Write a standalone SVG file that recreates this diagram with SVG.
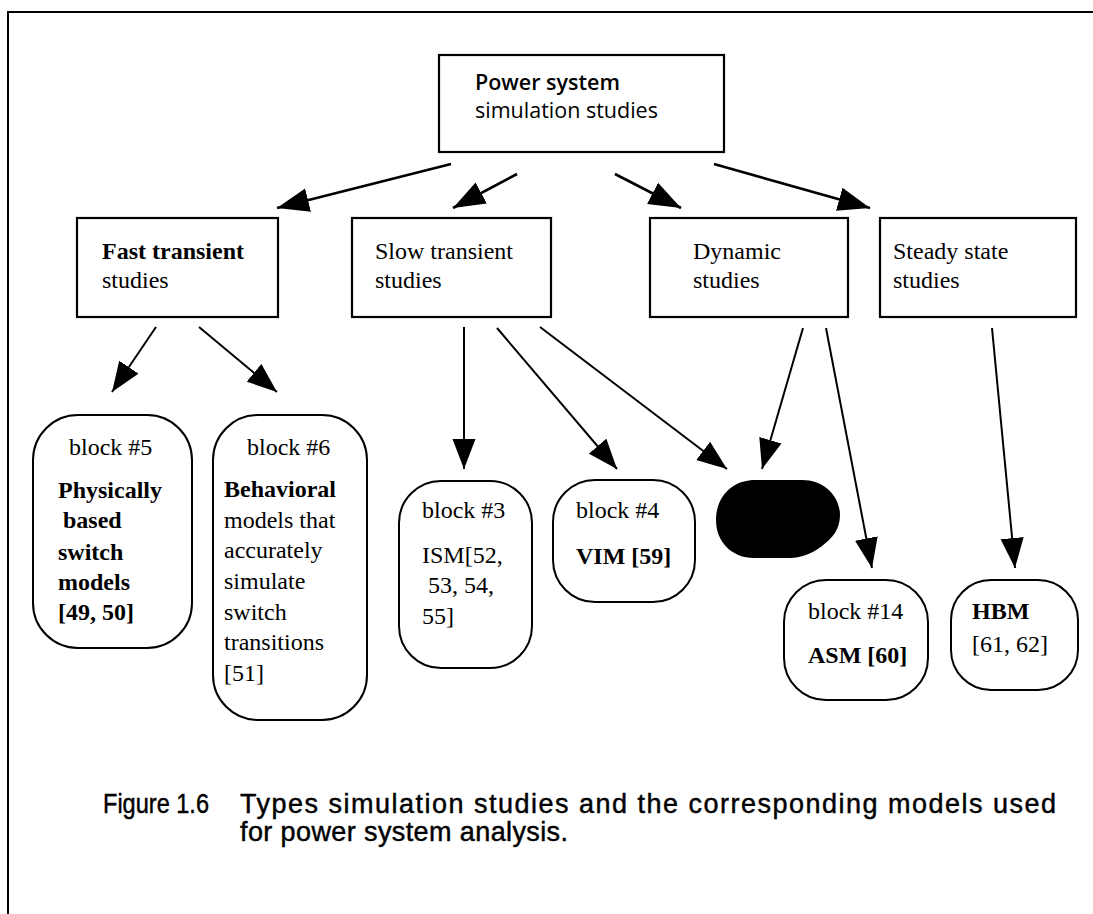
<svg xmlns="http://www.w3.org/2000/svg" width="1093" height="914" viewBox="0 0 1093 914">
  <style>
    .box { fill: #fff; stroke: #000; stroke-width: 2.2; }
    .blk { fill: #fff; stroke: #000; stroke-width: 2; }
    .sans { font-family: "Open Sans", "Noto Sans", sans-serif; font-size: 21.5px; fill: #000; }
    .t { font-family: "Liberation Serif", "Times New Roman", serif; font-size: 24px; fill: #000; }
    .b { font-weight: bold; }
    .cap { font-family: "Liberation Sans", Arial, sans-serif; font-size: 27px; fill: #000; stroke: #000; stroke-width: 0.45; }
    .edge { stroke: #000; stroke-width: 2; fill: none; marker-end: url(#ah); }
    .edge.top { stroke-width: 2.6; marker-end: url(#ah-big); }
  </style>
  <defs>
    <marker id="ah" markerUnits="userSpaceOnUse" markerWidth="30" markerHeight="24" viewBox="0 0 26 20" refX="26" refY="10" orient="auto">
      <path d="M0,0 L26,10 L0,20 Z" fill="#000"/>
    </marker>
    <marker id="ah-big" markerUnits="userSpaceOnUse" markerWidth="32" markerHeight="26" viewBox="0 0 28 21" refX="28" refY="10.5" orient="auto">
      <path d="M0,0 L28,10.5 L0,21 Z" fill="#000"/>
    </marker>
  </defs>

  <rect width="1093" height="914" fill="#fff"/>

  <!-- page frame -->
  <path d="M8,914 V12 H1093" fill="none" stroke="#000" stroke-width="2"/>

  <g id="power-system">
    <rect class="box" x="439" y="55" width="285" height="97"/>
    <text class="sans" x="475" y="90" font-weight="600">Power system</text>
    <text class="sans" x="475" y="118">simulation studies</text>
  </g>

  <g id="fast-transient">
    <rect class="box" x="77" y="218" width="201" height="99"/>
    <text class="t b" x="102" y="259" font-size="23">Fast transient</text>
    <text class="t" x="102" y="288">studies</text>
  </g>

  <g id="slow-transient">
    <rect class="box" x="352" y="218" width="199" height="99"/>
    <text class="t" x="375" y="259">Slow transient</text>
    <text class="t" x="375" y="288">studies</text>
  </g>

  <g id="dynamic">
    <rect class="box" x="650" y="218" width="198" height="99"/>
    <text class="t" x="693" y="259">Dynamic</text>
    <text class="t" x="693" y="288">studies</text>
  </g>

  <g id="steady-state">
    <rect class="box" x="880" y="218" width="196" height="99"/>
    <text class="t" x="893" y="259">Steady state</text>
    <text class="t" x="893" y="288">studies</text>
  </g>

  <g id="block5">
    <rect class="blk" x="33" y="415" width="159" height="233" rx="45" ry="45"/>
    <text class="t" x="69" y="455">block #5</text>
    <text class="t b" x="58" y="498">Physically</text>
    <text class="t b" x="63" y="528">based</text>
    <text class="t b" x="58" y="560">switch</text>
    <text class="t b" x="58" y="590">models</text>
    <text class="t b" x="58" y="620">[49, 50]</text>
  </g>

  <g id="block6">
    <rect class="blk" x="213" y="415" width="154" height="305" rx="45" ry="45"/>
    <text class="t" x="247" y="455">block #6</text>
    <text class="t b" x="224" y="497">Behavioral</text>
    <text class="t" x="224" y="528">models that</text>
    <text class="t" x="224" y="558">accurately</text>
    <text class="t" x="224" y="589">simulate</text>
    <text class="t" x="224" y="620">switch</text>
    <text class="t" x="224" y="650">transitions</text>
    <text class="t" x="224" y="681">[51]</text>
  </g>

  <g id="block3">
    <rect class="blk" x="399" y="481" width="133" height="187" rx="42" ry="42"/>
    <text class="t" x="422" y="518">block #3</text>
    <text class="t" x="422" y="563">ISM[52,</text>
    <text class="t" x="428" y="593">53, 54,</text>
    <text class="t" x="422" y="624">55]</text>
  </g>

  <g id="block4">
    <rect class="blk" x="553" y="480" width="142" height="122" rx="42" ry="42"/>
    <text class="t" x="576" y="518">block #4</text>
    <text class="t b" x="576" y="564">VIM [59]</text>
  </g>

  <g id="filled-block">
    <path d="M755,480 H802 C824,480 840,496 840,515 C840,530 832,538 822,546 C812,554 800,558 790,558 H754 C732,558 716,542 716,520 C716,506 722,494 732,487 C739,482 747,480 755,480 Z" fill="#000"/>
  </g>

  <g id="block14">
    <rect class="blk" x="784" y="580" width="144" height="120" rx="42" ry="42"/>
    <text class="t" x="808" y="619">block #14</text>
    <text class="t b" x="808" y="663">ASM [60]</text>
  </g>

  <g id="hbm">
    <rect class="blk" x="951" y="580" width="127" height="110" rx="40" ry="40"/>
    <text class="t b" x="972" y="619">HBM</text>
    <text class="t" x="972" y="652">[61, 62]</text>
  </g>

  <g id="connectors">
    <line class="edge top" x1="451" y1="164" x2="277" y2="208"/>
    <line class="edge top" x1="517" y1="174" x2="453" y2="208"/>
    <line class="edge top" x1="615" y1="174" x2="681" y2="208"/>
    <line class="edge top" x1="714" y1="164" x2="870" y2="208"/>
    <line class="edge" x1="156" y1="327" x2="112" y2="392"/>
    <line class="edge" x1="199" y1="327" x2="277" y2="392"/>
    <line class="edge" x1="464" y1="327" x2="464" y2="469"/>
    <line class="edge" x1="497" y1="328" x2="617" y2="469"/>
    <line class="edge" x1="540" y1="327" x2="727" y2="469"/>
    <line class="edge" x1="803" y1="328" x2="762" y2="469"/>
    <line class="edge" x1="826" y1="328" x2="872" y2="568"/>
    <line class="edge" x1="992" y1="328" x2="1015" y2="568"/>
  </g>

  <g id="caption">
    <text class="cap" x="103" y="813" textLength="106" lengthAdjust="spacingAndGlyphs">Figure 1.6</text>
    <text class="cap" x="240" y="813" textLength="816" lengthAdjust="spacing">Types simulation studies and the corresponding models used</text>
    <text class="cap" x="240" y="841" textLength="328" lengthAdjust="spacing">for power system analysis.</text>
  </g>
</svg>
